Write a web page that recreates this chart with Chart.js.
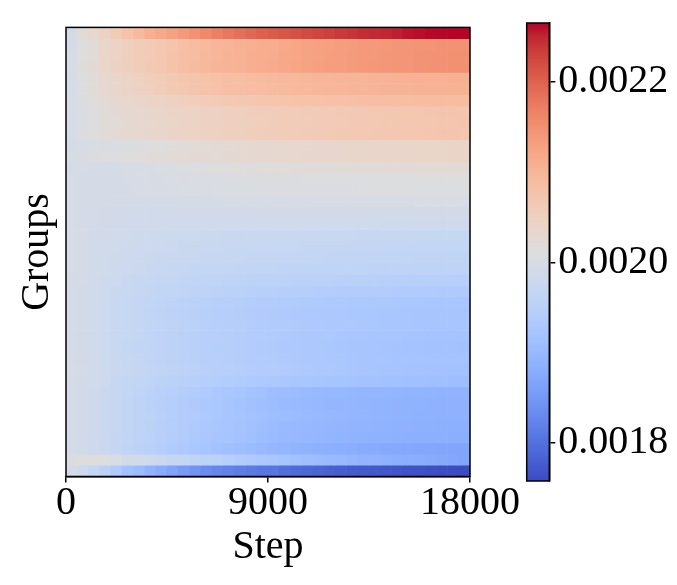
<!DOCTYPE html>
<html><head><meta charset="utf-8">
<script src="https://cdn.jsdelivr.net/npm/chart.js@4/dist/chart.umd.min.js"></script>
<style>
html,body{margin:0;padding:0;background:#fff;}
#wrap{position:relative;width:677px;height:585px;}
canvas{position:absolute;left:0;top:0;}
</style></head><body>
<div id="wrap"><canvas id="heat" width="677" height="585"></canvas><canvas id="cbar" width="677" height="585"></canvas></div>
<script>
// ---- data ----
const stepStarts = [0,500,1000,1500,2000,2500,3000,3500,4000,4500,5000,5500,6000,6500,7000,7500,8000,8500,9000,9500,10000,10500,11000,11500,12000,12500,13000,13500,14000,14500,15000,15500,16000,16500,17000,17500];
const stepWidth = 500;
const xTickValues = [0, 9000, 18000];
const cbarTickValues = [0.0018, 0.0020, 0.0022];
const vmin = 0.0017576, vmax = 0.0022654;
// one row per group, top to bottom; one value per step bin
const values = [
[0.001996,0.002022,0.002032,0.002047,0.002062,0.002078,0.002093,0.002108,0.002118,0.002128,0.002139,0.002149,0.002159,0.002169,0.002179,0.002187,0.002194,0.002202,0.002207,0.002212,0.002217,0.002222,0.002227,0.002232,0.002237,0.002240,0.002245,0.002248,0.002250,0.002253,0.002258,0.002260,0.002263,0.002264,0.002265,0.002265],
[0.001996,0.002011,0.002020,0.002035,0.002042,0.002050,0.002057,0.002062,0.002067,0.002075,0.002082,0.002088,0.002093,0.002098,0.002102,0.002105,0.002108,0.002111,0.002113,0.002118,0.002122,0.002126,0.002128,0.002131,0.002133,0.002136,0.002138,0.002139,0.002141,0.002143,0.002144,0.002146,0.002146,0.002148,0.002149,0.002149],
[0.001997,0.002013,0.002022,0.002037,0.002043,0.002051,0.002058,0.002063,0.002068,0.002076,0.002083,0.002089,0.002094,0.002099,0.002103,0.002106,0.002109,0.002112,0.002114,0.002119,0.002123,0.002127,0.002129,0.002132,0.002134,0.002137,0.002139,0.002140,0.002142,0.002144,0.002145,0.002147,0.002148,0.002149,0.002150,0.002150],
[0.001997,0.002014,0.002024,0.002038,0.002045,0.002052,0.002059,0.002064,0.002069,0.002077,0.002084,0.002090,0.002095,0.002100,0.002104,0.002107,0.002110,0.002113,0.002115,0.002120,0.002124,0.002127,0.002130,0.002133,0.002135,0.002137,0.002139,0.002141,0.002142,0.002144,0.002145,0.002147,0.002148,0.002149,0.002150,0.002151],
[0.001997,0.002010,0.002020,0.002030,0.002037,0.002042,0.002048,0.002054,0.002060,0.002065,0.002071,0.002075,0.002078,0.002081,0.002084,0.002086,0.002088,0.002090,0.002092,0.002094,0.002096,0.002097,0.002098,0.002099,0.002100,0.002101,0.002102,0.002103,0.002104,0.002105,0.002105,0.002106,0.002107,0.002107,0.002108,0.002108],
[0.001997,0.002009,0.002019,0.002029,0.002036,0.002041,0.002047,0.002053,0.002059,0.002064,0.002070,0.002074,0.002077,0.002080,0.002083,0.002085,0.002087,0.002089,0.002091,0.002093,0.002095,0.002096,0.002097,0.002098,0.002099,0.002100,0.002101,0.002102,0.002103,0.002104,0.002104,0.002105,0.002106,0.002106,0.002107,0.002107],
[0.001997,0.002007,0.002015,0.002022,0.002028,0.002032,0.002036,0.002040,0.002044,0.002048,0.002052,0.002055,0.002058,0.002061,0.002064,0.002067,0.002069,0.002071,0.002073,0.002075,0.002077,0.002078,0.002079,0.002080,0.002081,0.002082,0.002083,0.002084,0.002085,0.002086,0.002086,0.002087,0.002087,0.002088,0.002088,0.002088],
[0.001997,0.002005,0.002012,0.002018,0.002023,0.002027,0.002030,0.002033,0.002036,0.002039,0.002042,0.002044,0.002046,0.002048,0.002050,0.002052,0.002054,0.002056,0.002057,0.002059,0.002060,0.002061,0.002062,0.002063,0.002064,0.002065,0.002066,0.002067,0.002068,0.002069,0.002070,0.002070,0.002071,0.002072,0.002072,0.002073],
[0.001997,0.002004,0.002011,0.002017,0.002022,0.002026,0.002029,0.002032,0.002035,0.002038,0.002041,0.002043,0.002045,0.002047,0.002049,0.002051,0.002053,0.002055,0.002056,0.002058,0.002059,0.002060,0.002061,0.002062,0.002063,0.002064,0.002065,0.002066,0.002067,0.002068,0.002069,0.002069,0.002070,0.002071,0.002071,0.002072],
[0.001998,0.002005,0.002012,0.002018,0.002023,0.002027,0.002030,0.002033,0.002036,0.002039,0.002042,0.002044,0.002046,0.002048,0.002050,0.002052,0.002054,0.002056,0.002057,0.002059,0.002060,0.002061,0.002062,0.002063,0.002064,0.002065,0.002066,0.002067,0.002068,0.002069,0.002070,0.002070,0.002071,0.002072,0.002072,0.002073],
[0.001996,0.001999,0.002001,0.002002,0.002003,0.002004,0.002006,0.002009,0.002012,0.002015,0.002018,0.002020,0.002022,0.002024,0.002025,0.002026,0.002027,0.002028,0.002029,0.002030,0.002031,0.002032,0.002033,0.002034,0.002034,0.002035,0.002035,0.002036,0.002036,0.002037,0.002037,0.002038,0.002038,0.002038,0.002039,0.002039],
[0.001997,0.002002,0.002006,0.002009,0.002011,0.002013,0.002015,0.002017,0.002019,0.002021,0.002022,0.002023,0.002024,0.002025,0.002026,0.002027,0.002028,0.002029,0.002030,0.002031,0.002032,0.002033,0.002033,0.002034,0.002034,0.002035,0.002035,0.002036,0.002036,0.002037,0.002037,0.002038,0.002038,0.002038,0.002039,0.002039],
[0.001996,0.001997,0.001996,0.001995,0.001996,0.001998,0.002000,0.002002,0.002004,0.002006,0.002008,0.002009,0.002010,0.002011,0.002012,0.002013,0.002014,0.002015,0.002016,0.002016,0.002017,0.002017,0.002018,0.002018,0.002019,0.002019,0.002020,0.002020,0.002020,0.002021,0.002021,0.002021,0.002022,0.002022,0.002022,0.002022],
[0.001997,0.001996,0.001995,0.001995,0.001996,0.001997,0.001998,0.001999,0.002000,0.002001,0.002002,0.002003,0.002003,0.002004,0.002005,0.002005,0.002006,0.002006,0.002007,0.002007,0.002007,0.002008,0.002008,0.002008,0.002009,0.002009,0.002009,0.002010,0.002010,0.002010,0.002010,0.002011,0.002011,0.002011,0.002011,0.002011],
[0.001997,0.001996,0.001995,0.001994,0.001995,0.001996,0.001997,0.001998,0.001999,0.002000,0.002001,0.002001,0.002002,0.002003,0.002003,0.002004,0.002004,0.002005,0.002005,0.002005,0.002006,0.002006,0.002006,0.002007,0.002007,0.002007,0.002008,0.002008,0.002008,0.002008,0.002009,0.002009,0.002009,0.002009,0.002010,0.002010],
[0.001997,0.001996,0.001995,0.001994,0.001994,0.001994,0.001994,0.001995,0.001995,0.001995,0.001996,0.001996,0.001996,0.001996,0.001997,0.001997,0.001997,0.001997,0.001998,0.001998,0.001998,0.001998,0.001999,0.001999,0.001999,0.001999,0.002000,0.002000,0.002000,0.002000,0.002000,0.002001,0.002001,0.002001,0.002001,0.002001],
[0.001997,0.001995,0.001993,0.001991,0.001990,0.001989,0.001989,0.001989,0.001989,0.001989,0.001990,0.001990,0.001990,0.001990,0.001990,0.001990,0.001990,0.001991,0.001991,0.001991,0.001991,0.001991,0.001991,0.001991,0.001991,0.001991,0.001991,0.001991,0.001991,0.001991,0.001991,0.001991,0.001991,0.001991,0.001991,0.001991],
[0.001997,0.001994,0.001992,0.001990,0.001989,0.001988,0.001987,0.001987,0.001987,0.001986,0.001986,0.001986,0.001986,0.001986,0.001986,0.001986,0.001986,0.001986,0.001986,0.001986,0.001985,0.001985,0.001985,0.001985,0.001985,0.001985,0.001985,0.001985,0.001984,0.001984,0.001984,0.001984,0.001984,0.001984,0.001984,0.001984],
[0.001997,0.001994,0.001991,0.001989,0.001987,0.001985,0.001984,0.001983,0.001982,0.001981,0.001980,0.001979,0.001978,0.001978,0.001977,0.001977,0.001977,0.001976,0.001976,0.001976,0.001975,0.001975,0.001975,0.001974,0.001974,0.001974,0.001973,0.001973,0.001973,0.001972,0.001972,0.001972,0.001971,0.001971,0.001971,0.001971],
[0.001997,0.001993,0.001990,0.001987,0.001985,0.001983,0.001981,0.001980,0.001979,0.001978,0.001977,0.001976,0.001975,0.001974,0.001973,0.001972,0.001972,0.001971,0.001971,0.001970,0.001970,0.001969,0.001969,0.001969,0.001968,0.001968,0.001968,0.001967,0.001967,0.001967,0.001966,0.001966,0.001966,0.001966,0.001966,0.001966],
[0.001997,0.001993,0.001989,0.001986,0.001984,0.001982,0.001980,0.001978,0.001977,0.001976,0.001975,0.001974,0.001973,0.001972,0.001971,0.001970,0.001969,0.001969,0.001968,0.001967,0.001967,0.001966,0.001966,0.001965,0.001965,0.001964,0.001964,0.001964,0.001963,0.001963,0.001963,0.001962,0.001962,0.001962,0.001961,0.001961],
[0.001997,0.001993,0.001989,0.001985,0.001982,0.001980,0.001978,0.001976,0.001974,0.001972,0.001971,0.001969,0.001968,0.001967,0.001966,0.001965,0.001964,0.001963,0.001963,0.001962,0.001962,0.001961,0.001961,0.001961,0.001960,0.001960,0.001960,0.001959,0.001959,0.001959,0.001959,0.001958,0.001958,0.001958,0.001958,0.001958],
[0.001996,0.001992,0.001987,0.001983,0.001979,0.001976,0.001973,0.001971,0.001969,0.001967,0.001965,0.001963,0.001961,0.001960,0.001959,0.001957,0.001956,0.001955,0.001955,0.001954,0.001953,0.001952,0.001952,0.001951,0.001950,0.001950,0.001949,0.001949,0.001948,0.001948,0.001947,0.001947,0.001947,0.001946,0.001946,0.001946],
[0.001996,0.001991,0.001986,0.001981,0.001977,0.001974,0.001971,0.001968,0.001965,0.001963,0.001961,0.001959,0.001957,0.001955,0.001953,0.001951,0.001949,0.001947,0.001946,0.001945,0.001944,0.001943,0.001942,0.001941,0.001940,0.001939,0.001939,0.001938,0.001938,0.001937,0.001937,0.001936,0.001936,0.001935,0.001935,0.001935],
[0.001996,0.001991,0.001985,0.001980,0.001975,0.001971,0.001967,0.001963,0.001960,0.001957,0.001954,0.001952,0.001950,0.001948,0.001946,0.001944,0.001942,0.001940,0.001938,0.001937,0.001936,0.001935,0.001934,0.001933,0.001932,0.001931,0.001930,0.001929,0.001929,0.001928,0.001927,0.001927,0.001926,0.001926,0.001925,0.001925],
[0.001996,0.001991,0.001985,0.001979,0.001974,0.001970,0.001966,0.001962,0.001958,0.001955,0.001952,0.001950,0.001947,0.001945,0.001943,0.001941,0.001939,0.001937,0.001935,0.001934,0.001933,0.001932,0.001931,0.001930,0.001929,0.001928,0.001927,0.001927,0.001926,0.001925,0.001925,0.001924,0.001924,0.001923,0.001923,0.001923],
[0.001996,0.001991,0.001985,0.001980,0.001975,0.001971,0.001967,0.001963,0.001960,0.001957,0.001954,0.001951,0.001949,0.001947,0.001945,0.001943,0.001941,0.001939,0.001937,0.001936,0.001935,0.001933,0.001932,0.001931,0.001930,0.001929,0.001928,0.001927,0.001926,0.001926,0.001925,0.001924,0.001924,0.001923,0.001923,0.001923],
[0.001996,0.001991,0.001985,0.001979,0.001974,0.001970,0.001966,0.001962,0.001959,0.001956,0.001953,0.001950,0.001948,0.001946,0.001944,0.001942,0.001940,0.001938,0.001936,0.001934,0.001933,0.001931,0.001930,0.001929,0.001927,0.001926,0.001925,0.001924,0.001923,0.001922,0.001921,0.001920,0.001919,0.001919,0.001918,0.001918],
[0.001996,0.001991,0.001985,0.001979,0.001974,0.001969,0.001965,0.001961,0.001958,0.001955,0.001952,0.001949,0.001947,0.001945,0.001943,0.001941,0.001939,0.001937,0.001935,0.001933,0.001932,0.001930,0.001929,0.001927,0.001926,0.001924,0.001923,0.001922,0.001921,0.001920,0.001919,0.001918,0.001917,0.001916,0.001916,0.001915],
[0.001996,0.001991,0.001986,0.001980,0.001975,0.001970,0.001966,0.001962,0.001959,0.001956,0.001953,0.001950,0.001948,0.001946,0.001944,0.001942,0.001940,0.001938,0.001936,0.001934,0.001933,0.001931,0.001930,0.001928,0.001927,0.001926,0.001924,0.001923,0.001922,0.001921,0.001920,0.001920,0.001919,0.001919,0.001918,0.001918],
[0.001997,0.001992,0.001987,0.001982,0.001977,0.001972,0.001968,0.001964,0.001961,0.001958,0.001955,0.001952,0.001950,0.001948,0.001946,0.001944,0.001942,0.001940,0.001938,0.001936,0.001934,0.001932,0.001930,0.001929,0.001927,0.001925,0.001924,0.001922,0.001921,0.001920,0.001919,0.001918,0.001917,0.001916,0.001915,0.001915],
[0.001996,0.001991,0.001985,0.001979,0.001973,0.001968,0.001964,0.001960,0.001956,0.001953,0.001950,0.001947,0.001944,0.001941,0.001939,0.001936,0.001934,0.001932,0.001930,0.001928,0.001926,0.001925,0.001923,0.001921,0.001920,0.001918,0.001917,0.001916,0.001915,0.001914,0.001913,0.001912,0.001911,0.001911,0.001910,0.001910],
[0.001996,0.001990,0.001983,0.001977,0.001971,0.001966,0.001960,0.001955,0.001950,0.001946,0.001942,0.001938,0.001934,0.001930,0.001926,0.001922,0.001918,0.001914,0.001910,0.001907,0.001905,0.001903,0.001901,0.001899,0.001898,0.001897,0.001896,0.001895,0.001894,0.001893,0.001892,0.001891,0.001891,0.001890,0.001890,0.001890],
[0.001996,0.001990,0.001983,0.001976,0.001970,0.001964,0.001958,0.001953,0.001948,0.001943,0.001939,0.001935,0.001931,0.001927,0.001923,0.001919,0.001915,0.001911,0.001907,0.001904,0.001902,0.001900,0.001898,0.001896,0.001895,0.001894,0.001893,0.001892,0.001891,0.001890,0.001889,0.001889,0.001888,0.001888,0.001887,0.001887],
[0.001996,0.001990,0.001984,0.001977,0.001971,0.001965,0.001959,0.001954,0.001949,0.001944,0.001940,0.001936,0.001932,0.001928,0.001924,0.001920,0.001916,0.001913,0.001910,0.001907,0.001905,0.001903,0.001901,0.001899,0.001897,0.001895,0.001894,0.001892,0.001891,0.001890,0.001889,0.001888,0.001888,0.001887,0.001887,0.001887],
[0.001996,0.001990,0.001983,0.001976,0.001970,0.001964,0.001958,0.001953,0.001948,0.001943,0.001938,0.001934,0.001930,0.001926,0.001922,0.001918,0.001914,0.001910,0.001906,0.001903,0.001901,0.001899,0.001897,0.001895,0.001893,0.001892,0.001891,0.001890,0.001889,0.001888,0.001887,0.001886,0.001886,0.001885,0.001885,0.001885],
[0.001996,0.001990,0.001983,0.001976,0.001969,0.001963,0.001957,0.001951,0.001946,0.001941,0.001936,0.001932,0.001928,0.001924,0.001920,0.001916,0.001912,0.001908,0.001904,0.001901,0.001899,0.001897,0.001895,0.001893,0.001891,0.001890,0.001889,0.001888,0.001887,0.001886,0.001885,0.001884,0.001883,0.001883,0.001882,0.001882],
[0.001996,0.001989,0.001982,0.001975,0.001968,0.001961,0.001955,0.001949,0.001943,0.001937,0.001932,0.001927,0.001922,0.001917,0.001913,0.001909,0.001905,0.001901,0.001897,0.001894,0.001891,0.001889,0.001886,0.001884,0.001882,0.001880,0.001878,0.001877,0.001875,0.001874,0.001873,0.001872,0.001871,0.001870,0.001869,0.001869],
[0.002006,0.002011,0.002012,0.002011,0.002001,0.001991,0.001989,0.001981,0.001976,0.001968,0.001966,0.001961,0.001956,0.001951,0.001946,0.001940,0.001935,0.001930,0.001925,0.001920,0.001915,0.001910,0.001905,0.001902,0.001900,0.001895,0.001892,0.001890,0.001887,0.001885,0.001882,0.001880,0.001877,0.001874,0.001872,0.001869],
[0.001996,0.001981,0.001966,0.001951,0.001935,0.001915,0.001905,0.001890,0.001877,0.001864,0.001854,0.001844,0.001834,0.001827,0.001821,0.001816,0.001811,0.001808,0.001806,0.001798,0.001793,0.001789,0.001786,0.001782,0.001778,0.001775,0.001773,0.001771,0.001770,0.001768,0.001765,0.001764,0.001762,0.001760,0.001759,0.001758]
];

// ---- coolwarm colormap ----
const CW = [[59,76,192],[68,90,204],[77,104,215],[87,117,225],[98,130,234],[108,142,241],[119,154,247],[130,165,251],[141,176,254],[152,185,255],[163,194,255],[174,201,253],[184,208,249],[194,213,244],[204,217,238],[213,219,230],[221,221,221],[229,216,209],[236,211,197],[241,204,184],[245,196,172],[247,187,159],[247,177,147],[247,166,134],[244,154,123],[241,141,111],[236,127,99],[229,112,89],[222,96,78],[213,80,69],[203,62,60],[192,40,51],[180,4,38]];
function coolwarm(t){
  t = Math.max(0, Math.min(1, t));
  const p = t*(CW.length-1), i = Math.min(CW.length-2, Math.floor(p)), f = p - i;
  const a = CW[i], b = CW[i+1];
  return 'rgb(' + [0,1,2].map(k => Math.round(a[k] + (b[k]-a[k])*f)).join(',') + ')';
}

const FONT = 'Liberation Serif, Times New Roman, serif';
const frame = {
  id: 'frame',
  afterDatasetsDraw(chart){
    const {ctx, chartArea: a} = chart;
    ctx.save(); ctx.strokeStyle = '#000'; ctx.lineWidth = 1.5;
    ctx.strokeRect(a.left, a.top, a.right - a.left, a.bottom - a.top);
    ctx.restore();
  }
};

// ---- heatmap ----
const datasets = values.map((row, r) => ({
  data: row.map((v, c) => ({x: stepStarts[c] + stepWidth/2, y: [r, r+1], v: v})),
  backgroundColor: row.map(v => coolwarm((v - vmin)/(vmax - vmin))),
  borderWidth: 0, grouped: false, barPercentage: 1, categoryPercentage: 1
}));

new Chart(document.getElementById('heat'), {
  type: 'bar',
  data: {datasets},
  options: {
    responsive: false, animation: false, devicePixelRatio: 1,
    layout: {padding: {top: 27.4, right: 207, left: 0, bottom: 0}},
    plugins: {legend: {display: false}, tooltip: {enabled: false}},
    scales: {
      x: {
        type: 'linear', min: 0, max: 18000, offset: false,
        afterBuildTicks(s){ s.ticks = xTickValues.map(v => ({value: v})); },
        afterFit(s){ s.height = 108.5; },
        grid: {display: true, offset: false, drawOnChartArea: false, drawTicks: true, tickLength: 6, color: '#000', lineWidth: 1.5},
        border: {display: true, color: '#000', width: 1.5},
        ticks: {color: '#000', padding: 1, maxRotation: 0, font: {family: FONT, size: 40, lineHeight: 1}, callback: v => String(v)},
        title: {display: true, text: 'Step', color: '#000', font: {family: FONT, size: 40, lineHeight: 1}, padding: {top: 0, bottom: 18}}
      },
      y: {
        type: 'linear', min: 0, max: 40, reverse: true,
        afterFit(s){ s.width = 66; },
        grid: {display: false}, border: {display: false},
        ticks: {display: false},
        title: {display: true, text: 'Groups', color: '#000', font: {family: FONT, size: 40, lineHeight: 1}, padding: {top: 17, bottom: 0}}
      }
    }
  },
  plugins: [frame]
});

// ---- colorbar ----
new Chart(document.getElementById('cbar'), {
  type: 'bar',
  data: {labels: ['scale'], datasets: [{
    data: [[vmin, vmax]],
    backgroundColor(ctx){
      const a = ctx.chart.chartArea;
      if (!a) return '#ddd';
      const g = ctx.chart.ctx.createLinearGradient(0, a.bottom, 0, a.top);
      CW.forEach((c, i) => g.addColorStop(i/(CW.length-1), 'rgb(' + c.join(',') + ')'));
      return g;
    },
    borderWidth: 0, barPercentage: 1, categoryPercentage: 1
  }]},
  options: {
    responsive: false, animation: false, devicePixelRatio: 1,
    layout: {padding: {top: 22.7, right: 0, left: 526.7, bottom: 104}},
    plugins: {legend: {display: false}, tooltip: {enabled: false}},
    scales: {
      x: {display: false, offset: true},
      y: {
        position: 'right', min: vmin, max: vmax,
        afterBuildTicks(s){ s.ticks = cbarTickValues.map(v => ({value: v})); },
        afterFit(s){ s.width = 127.7; },
        grid: {display: true, drawOnChartArea: false, drawTicks: true, tickLength: 6, color: '#000', lineWidth: 1.5},
        border: {display: true, color: '#000', width: 1.5},
        ticks: {color: '#000', padding: 3, font: {family: FONT, size: 40, lineHeight: 1}, callback: v => v.toFixed(4)}
      }
    }
  },
  plugins: [frame]
});
</script>
</body></html>
